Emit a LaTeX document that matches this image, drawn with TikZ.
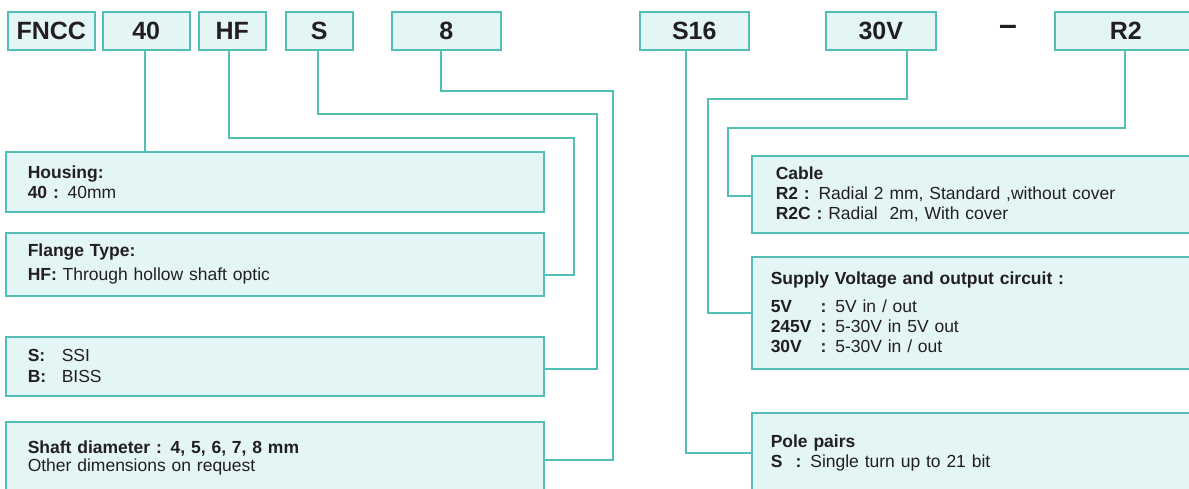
\documentclass[tikz,border=0pt]{standalone}
\usepackage{fontspec}
\setmainfont{Liberation Sans}
\usepackage{xcolor}
\definecolor{CodeTeal}{RGB}{82, 190, 180}
\definecolor{CodeFill}{RGB}{228, 245, 245}
\definecolor{CodeText}{RGB}{35, 31, 32}
\usetikzlibrary{positioning, calc}
\tikzset{
  codebox/.style={draw=CodeTeal, fill=CodeFill, line width=1.5pt, anchor=north west,
    minimum height=38pt, inner sep=0pt, text=CodeText,
    font=\fontsize{25}{25}\selectfont\bfseries},
  descbox/.style={draw=CodeTeal, fill=CodeFill, line width=1.5pt, anchor=north west,
    align=left, inner ysep=0pt, text=CodeText,
    font=\fontsize{17.5}{20}\selectfont},
  link/.style={CodeTeal, line width=1.5pt},
}

\begin{document}
\begin{tikzpicture}[x=1pt, y=-1pt]
    \useasboundingbox (0,0) rectangle (1189,488);

    % Order code
    \node[codebox, minimum width=87pt] (fncc) at (7,11) {FNCC};
    \node[codebox, minimum width=87pt] (n40) at (102,11) {40};
    \node[codebox, minimum width=67pt] (nHF) at (198,11) {HF};
    \node[codebox, minimum width=67pt] (nS) at (285,11) {S};
    \node[codebox, minimum width=109pt] (n8) at (391,11) {8};
    \node[codebox, minimum width=109pt] (nS16) at (639,11) {S16};
    \node[codebox, minimum width=110pt] (n30V) at (825,11) {30V};
    \node[font=\fontsize{32}{32}\selectfont\bfseries, text=CodeText, anchor=base] (dash) at (1008,35.5) {–};
    \node[codebox, minimum width=142pt] (nR2) at (1054,11) {R2};

    % Housing
    \node[descbox, inner xsep=22pt, text width=494pt, minimum height=60pt] (housing) at (5,151) {
      \textbf{Housing:}\\
      \textbf{40 :} 40mm};

    % Flange
    \node[descbox, inner xsep=22pt, text width=494pt, minimum height=63pt] (flange) at (5,232) {
      \textbf{Flange Type:}\\[4pt]
      \textbf{HF:} Through hollow shaft optic};

    % Interface
    \node[descbox, inner xsep=22pt, text width=494pt, minimum height=59pt] (iface) at (5,336) {
      \makebox[34pt][l]{\textbf{S:}}SSI\\[1pt]
      \makebox[34pt][l]{\textbf{B:}}BISS};

    % Shaft
    \node[descbox, inner xsep=22pt, text width=494pt, minimum height=72pt] (shaft) at (5,421) {
      \textbf{Shaft diameter : 4, 5, 6, 7, 8 mm}\\[-2pt]
      Other dimensions on request};

    % Cable
    \node[descbox, inner xsep=24pt, text width=397pt, minimum height=77pt] (cable) at (751,155) {
      \textbf{Cable}\\
      \textbf{R2 :} Radial 2 mm, Standard ,without cover\\
      \textbf{R2C :} Radial~ 2m, With cover};

    % Supply
    \node[descbox, inner xsep=19pt, text width=407pt, minimum height=112pt] (supply) at (751,256) {
      \textbf{Supply Voltage and output circuit :}\\[8pt]
      \makebox[50pt][l]{\textbf{5V}}\textbf{:} 5V in / out\\
      \makebox[50pt][l]{\textbf{245V}}\textbf{:} 5-30V in 5V out\\
      \makebox[50pt][l]{\textbf{30V}}\textbf{:} 5-30V in / out};

    % Pole pairs
    \node[descbox, inner xsep=19pt, text width=407pt, minimum height=80pt] (pole) at (751,412) {
      \textbf{Pole pairs}\\
      \makebox[25pt][l]{\textbf{S}}\textbf{:} Single turn up to 21 bit};

    \draw[link] (n40.south -| 145,0) -- (housing.north -| 145,0);
    \draw[link] (nHF.south -| 229,0) |- (574,138) |- (flange.east |- 0,275);
    \draw[link] (nS.south -| 318,0) |- (597,114) |- (iface.east |- 0,369);
    \draw[link] (n8.south -| 441,0) |- (613,91) |- (shaft.east |- 0,460);
    \draw[link] (nS16.south -| 686,0) |- (pole.west |- 0,453);
    \draw[link] (n30V.south -| 907,0) |- (708,99) |- (supply.west |- 0,313);
    \draw[link] (nR2.south -| 1125,0) |- (728,128) |- (cable.west |- 0,196);
\end{tikzpicture}
\end{document}
